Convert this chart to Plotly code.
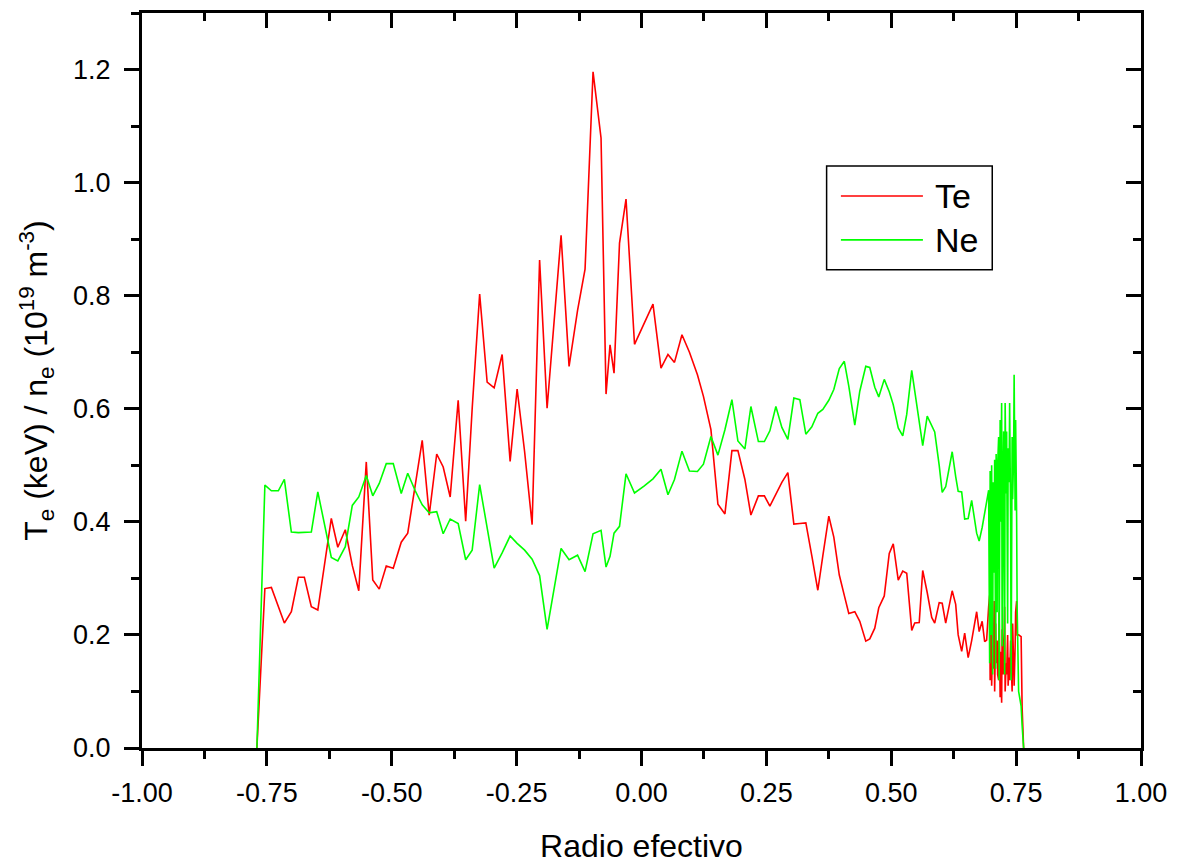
import plotly.graph_objects as go

# Effective radius grid
radius = [
    -0.770, -0.754, -0.741, -0.727, -0.715, -0.701, -0.687, -0.675, -0.661, -0.648,
    -0.621, -0.608, -0.593, -0.579, -0.566, -0.551, -0.538, -0.525, -0.511, -0.497,
    -0.481, -0.468, -0.453, -0.439, -0.425, -0.410, -0.397, -0.383, -0.367, -0.352,
    -0.339, -0.324, -0.309, -0.295, -0.279, -0.263, -0.249, -0.234, -0.219, -0.204,
    -0.189, -0.175, -0.161, -0.145, -0.128, -0.113, -0.097, -0.081, -0.071, -0.063,
    -0.055, -0.044, -0.031, -0.014, 0.005, 0.023, 0.039, 0.053, 0.066, 0.081,
    0.096, 0.112, 0.124, 0.139, 0.153, 0.167, 0.181, 0.193, 0.207, 0.219,
    0.234, 0.246, 0.257, 0.269, 0.281, 0.293, 0.305, 0.317, 0.329, 0.341,
    0.353, 0.363, 0.375, 0.385, 0.396, 0.406, 0.415, 0.427, 0.437, 0.449,
    0.457, 0.467, 0.475, 0.486, 0.496, 0.504, 0.514, 0.523, 0.531, 0.541,
    0.547, 0.556, 0.563, 0.572, 0.581, 0.587, 0.596, 0.602, 0.609, 0.622,
    0.629, 0.634, 0.641, 0.647, 0.654, 0.661, 0.671, 0.676, 0.682, 0.687,
    0.691, 0.695,
    0.697, 0.698, 0.700, 0.701, 0.703, 0.704, 0.706, 0.707, 0.709, 0.710,
    0.712, 0.713, 0.715, 0.716, 0.718, 0.719, 0.721, 0.722, 0.724, 0.725,
    0.727, 0.728, 0.730, 0.731, 0.733, 0.734, 0.736, 0.737, 0.739, 0.740,
    0.742, 0.743, 0.745, 0.746, 0.748, 0.749, 0.751, 0.752,
    0.755, 0.760, 0.762, 0.765,
]

# Electron temperature (keV)
te_values = [
    0.000, 0.282, 0.284, 0.250, 0.221, 0.241, 0.302, 0.302, 0.250, 0.244,
    0.406, 0.355, 0.386, 0.323, 0.278, 0.506, 0.297, 0.281, 0.322, 0.318,
    0.364, 0.380, 0.465, 0.544, 0.412, 0.520, 0.497, 0.444, 0.615, 0.401,
    0.600, 0.803, 0.647, 0.637, 0.696, 0.507, 0.635, 0.524, 0.395, 0.863,
    0.601, 0.760, 0.907, 0.675, 0.774, 0.847, 1.196, 1.079, 0.626, 0.713,
    0.663, 0.893, 0.971, 0.714, 0.750, 0.785, 0.672, 0.696, 0.682, 0.731,
    0.700, 0.660, 0.622, 0.563, 0.431, 0.414, 0.526, 0.526, 0.475, 0.412,
    0.446, 0.446, 0.428, 0.450, 0.470, 0.487, 0.396, 0.397, 0.398, 0.340,
    0.279, 0.340, 0.410, 0.373, 0.306, 0.270, 0.238, 0.241, 0.224, 0.189,
    0.193, 0.212, 0.248, 0.269, 0.344, 0.361, 0.297, 0.313, 0.309, 0.208,
    0.221, 0.222, 0.314, 0.275, 0.231, 0.221, 0.257, 0.256, 0.221, 0.278,
    0.254, 0.200, 0.171, 0.203, 0.160, 0.190, 0.241, 0.206, 0.224, 0.188,
    0.191, 0.250,
    0.27, 0.12, 0.24, 0.11, 0.20, 0.14, 0.26, 0.10, 0.22, 0.15,
    0.19, 0.13, 0.12, 0.24, 0.09, 0.17, 0.08, 0.21, 0.13, 0.16,
    0.25, 0.10, 0.15, 0.13, 0.20, 0.11, 0.16, 0.12, 0.19, 0.15,
    0.10, 0.22, 0.14, 0.11, 0.18, 0.24, 0.26, 0.20,
    0.200, 0.197, 0.071, 0.000,
]

# Electron density (1e19 m^-3)
ne_values = [
    0.000, 0.465, 0.455, 0.455, 0.475, 0.382, 0.381, 0.381, 0.382, 0.453,
    0.337, 0.331, 0.356, 0.429, 0.444, 0.482, 0.446, 0.468, 0.503, 0.503,
    0.450, 0.486, 0.455, 0.430, 0.416, 0.418, 0.379, 0.405, 0.397, 0.333,
    0.350, 0.466, 0.392, 0.318, 0.345, 0.375, 0.362, 0.350, 0.334, 0.305,
    0.210, 0.285, 0.353, 0.333, 0.341, 0.312, 0.379, 0.385, 0.320, 0.339,
    0.380, 0.392, 0.485, 0.451, 0.463, 0.476, 0.493, 0.448, 0.475, 0.525,
    0.490, 0.489, 0.502, 0.551, 0.518, 0.563, 0.616, 0.543, 0.529, 0.604,
    0.542, 0.542, 0.561, 0.604, 0.567, 0.546, 0.619, 0.616, 0.555, 0.568,
    0.592, 0.599, 0.615, 0.634, 0.671, 0.684, 0.640, 0.571, 0.631, 0.675,
    0.673, 0.638, 0.621, 0.652, 0.630, 0.607, 0.566, 0.552, 0.590, 0.668,
    0.630, 0.570, 0.535, 0.587, 0.570, 0.559, 0.500, 0.452, 0.462, 0.524,
    0.480, 0.454, 0.453, 0.405, 0.406, 0.438, 0.380, 0.366, 0.390, 0.418,
    0.440, 0.456,
    0.15, 0.49, 0.20, 0.50, 0.13, 0.47, 0.31, 0.51, 0.14, 0.52,
    0.24, 0.50, 0.55, 0.12, 0.58, 0.40, 0.61, 0.18, 0.50, 0.56,
    0.13, 0.61, 0.45, 0.56, 0.22, 0.53, 0.47, 0.61, 0.40, 0.12,
    0.55, 0.44, 0.52, 0.66, 0.42, 0.58, 0.41, 0.25,
    0.100, 0.074, 0.040, 0.000,
]

x_ticks = [-1.0, -0.75, -0.5, -0.25, 0.0, 0.25, 0.5, 0.75, 1.0]
x_tick_labels = ["-1.00", "-0.75", "-0.50", "-0.25", "0.00", "0.25", "0.50", "0.75", "1.00"]
y_ticks = [0.0, 0.2, 0.4, 0.6, 0.8, 1.0, 1.2]
y_tick_labels = ["0.0", "0.2", "0.4", "0.6", "0.8", "1.0", "1.2"]
series_names = ["Te", "Ne"]
series_colors = ["#ff0000", "#00ff00"]

FONT = "Liberation Sans, Arial, sans-serif"

fig = go.Figure()
fig.add_trace(go.Scatter(x=radius, y=te_values, mode="lines", name=series_names[0],
                         line=dict(color=series_colors[0], width=1.6), showlegend=False))
fig.add_trace(go.Scatter(x=radius, y=ne_values, mode="lines", name=series_names[1],
                         line=dict(color=series_colors[1], width=1.6), showlegend=False,
                         xaxis="x2", yaxis="y2"))

common_x = dict(range=[-1, 1], showgrid=False, zeroline=False, showline=True,
                linecolor="black", linewidth=3, tickcolor="black", tickwidth=3)
common_y = dict(range=[0, 1.3], showgrid=False, zeroline=False, showline=True,
                linecolor="black", linewidth=3, tickcolor="black", tickwidth=3)

fig.update_layout(
    width=1172, height=856,
    margin=dict(l=134, r=39, t=5, b=111),
    paper_bgcolor="white", plot_bgcolor="white",
    font=dict(family=FONT, color="black"),
    xaxis=dict(**common_x, tickvals=x_ticks, ticktext=x_tick_labels, ticks="outside", ticklen=15,
               tickfont=dict(size=27, family=FONT), ticklabelstandoff=4,
               minor=dict(dtick=0.125, tick0=-1, ticks="outside", ticklen=8, tickwidth=3, tickcolor="black"),
               title=dict(text="Radio efectivo", font=dict(size=32, family=FONT), standoff=28)),
    yaxis=dict(**common_y, tickvals=y_ticks, ticktext=y_tick_labels, ticks="outside", ticklen=15,
               tickfont=dict(size=27, family=FONT), ticklabelstandoff=8,
               minor=dict(dtick=0.1, tick0=0, ticks="outside", ticklen=8, tickwidth=3, tickcolor="black"),
               title=dict(text="T<sub>e</sub> (keV) / n<sub>e</sub> (10<sup>19</sup> m<sup>-3</sup>)",
                          font=dict(size=32, family=FONT), standoff=16)),
    xaxis2=dict(**common_x, overlaying="x", side="top", anchor="y", tickvals=x_ticks,
                ticks="inside", ticklen=15, showticklabels=False,
                minor=dict(dtick=0.125, tick0=-1, ticks="inside", ticklen=8, tickwidth=3, tickcolor="black")),
    yaxis2=dict(**common_y, overlaying="y", side="right", anchor="x", tickvals=y_ticks,
                ticks="inside", ticklen=15, showticklabels=False,
                minor=dict(dtick=0.1, tick0=0, ticks="inside", ticklen=8, tickwidth=3, tickcolor="black")),
    showlegend=False,
)

# Legend box drawn in paper coordinates
fig.add_shape(type="rect", xref="paper", yref="paper", x0=0.6853, x1=0.8511, y0=0.6506, y1=0.7918,
              line=dict(color="black", width=1.5), fillcolor="white", layer="above")
legend_y = [0.7511, 0.6913]
for name, color, ly in zip(series_names, series_colors, legend_y):
    fig.add_shape(type="line", xref="paper", yref="paper", x0=0.6996, x1=0.7817, y0=ly, y1=ly,
                  line=dict(color=color, width=1.6), layer="above")
    fig.add_annotation(xref="paper", yref="paper", x=0.7920, y=ly, text=name, showarrow=False,
                       xanchor="left", yanchor="middle", font=dict(size=34, family=FONT, color="black"))

fig.write_html("out.html")
